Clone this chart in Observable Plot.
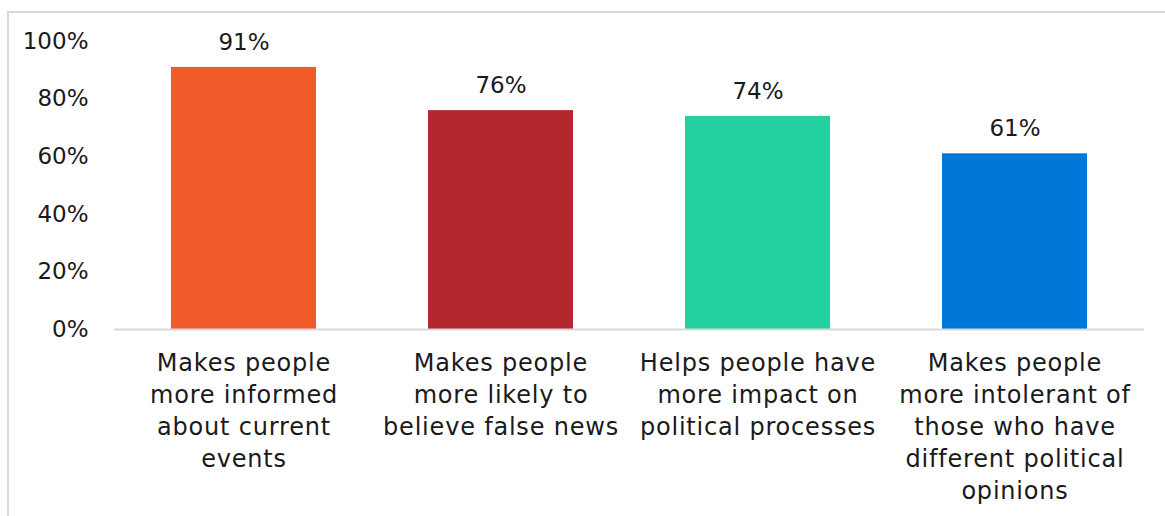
<!DOCTYPE html>
<html>
<head>
<meta charset="utf-8">
<script src="https://cdn.jsdelivr.net/npm/d3@7"></script>
<script src="https://cdn.jsdelivr.net/npm/@observablehq/plot@0.6"></script>
<style>
  html, body { margin: 0; padding: 0; background: #fff; }
  #wrap { position: relative; width: 1165px; height: 516px; overflow: hidden; }
  #border { position: absolute; left: 7px; top: 11px; width: 1200px; height: 600px;
            border-left: 2px solid #d9d9d9; border-top: 2px solid #d9d9d9; pointer-events: none; z-index: 2; }
</style>
</head>
<body>
<div id="wrap"><div id="border"></div></div>
<script>
const categories = [
  "Makes people more informed about current events",
  "Makes people more likely to believe false news",
  "Helps people have more impact on political processes",
  "Makes people more intolerant of those who have different political opinions"
];
const tickLabels = [
  "Makes people\nmore informed\nabout current\nevents",
  "Makes people\nmore likely to\nbelieve false news",
  "Helps people have\nmore impact on\npolitical processes",
  "Makes people\nmore intolerant of\nthose who have\ndifferent political\nopinions"
];
const values = [91, 76, 74, 61];
const colors = ["#F15A29", "#B3282E", "#23D1A0", "#0078D7"];
const yTicks = [0, 20, 40, 60, 80, 100];

const data = categories.map((c, i) => ({cat: c, value: values[i]}));
const labelOf = new Map(categories.map((c, i) => [c, tickLabels[i]]));

const font = "'DejaVu Sans', sans-serif";
const chart = Plot.plot({
  width: 1165,
  height: 516,
  marginLeft: 114,
  marginRight: 21,
  marginTop: 41,
  marginBottom: 187,
  style: {fontFamily: font, fontSize: "23px", color: "#1a1a1a", background: "transparent"},
  x: {domain: categories, paddingInner: 0.437, paddingOuter: 0.2185, label: null},
  y: {domain: [0, 100], label: null},
  color: {domain: categories, range: colors},
  marks: [
    Plot.barY(data, {x: "cat", y: "value", fill: "cat"}),
    Plot.ruleY([0], {stroke: "#d9d9d9", strokeWidth: 2}),
    Plot.text(data, {x: "cat", y: "value", text: d => d.value + "%", dy: -25, fontSize: 23, fill: "#1a1a1a"}),
    Plot.axisY({ticks: yTicks, tickFormat: d => d + "%", tickSize: 0, tickPadding: 26, fontSize: 23, label: null}),
    Plot.axisX({tickSize: 0, tickPadding: 19, tickFormat: d => labelOf.get(d), lineHeight: 1.33, fontSize: 24, label: null})
  ]
});
d3.select(chart).selectAll('g[aria-label="x-axis tick label"]').style("letter-spacing", "0.8px");
chart.style.position = "absolute";
chart.style.left = "0px";
chart.style.top = "0px";
document.getElementById("wrap").appendChild(chart);
</script>
</body>
</html>
